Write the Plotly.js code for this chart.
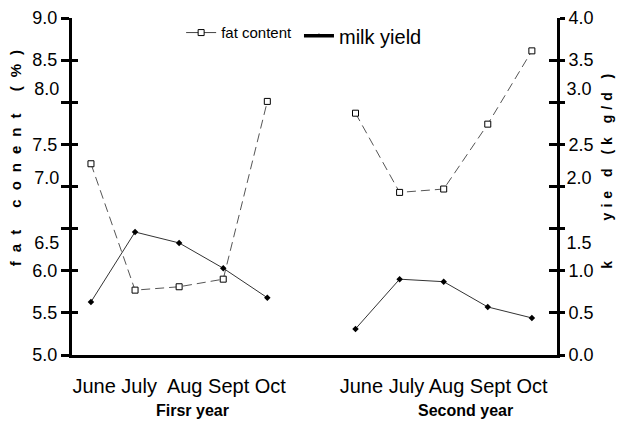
<!DOCTYPE html>
<html>
<head>
<meta charset="utf-8">
<script src="https://cdn.plot.ly/plotly-3.0.1.min.js"></script>
<style>
  html, body { margin: 0; padding: 0; background: #fff; }
  #chart { width: 618px; height: 425px; }
  .ytitle { letter-spacing: 9px; }
  .y2title { letter-spacing: 5px; }
</style>
</head>
<body>
<div id="chart"></div>
<script>
// ---- data ----
const months = ['June', 'July', 'Aug', 'Sept', 'Oct'];
const years = ['Firsr year', 'Second year'];
const fatFirst = [7.27, 5.77, 5.81, 5.90, 8.01];
const fatSecond = [7.87, 6.93, 6.97, 7.74, 8.61];
const milkFirst = [0.63, 1.46, 1.33, 1.03, 0.68];
const milkSecond = [0.31, 0.90, 0.87, 0.57, 0.44];
const leftTickVals = [5.0, 5.5, 6.0, 6.5, 7.0, 7.5, 8.0, 8.5, 9.0];
const leftTickText = ['5.0', '5.5', '6.0', '', '', '7.5', '', '8.5', '9.0'];
const leftShiftedVals = [6.33, 7.10, 8.16];
const leftShiftedText = ['6.5', '7.0', '8.0'];
const rightTickVals = [0.0, 0.5, 1.0, 1.5, 2.0, 2.5, 3.0, 3.5, 4.0];
const rightTickText = ['0.0', '0.5', '1.0', '', '', '2.5', '', '3.5', '4.0'];
const rightShiftedVals = [1.33, 2.10, 3.16];
const rightShiftedText = ['1.5', '2.0', '3.0'];
const groupLabels = ['June July&nbsp; Aug Sept Oct', 'June July Aug Sept Oct'];

// x positions: first year 0..4, second year 6..10 (gap of one slot)
const xFirst = months.map((m, i) => i);
const xSecond = months.map((m, i) => i + 6);
const groupCenters = [xFirst[2], xSecond[2]];

const FONT = 'Liberation Sans, Arial, Helvetica, sans-serif';

const fatStyle = {
  mode: 'lines+markers',
  line: { color: '#555', width: 1, dash: '9px,5px' },
  marker: { symbol: 'square', size: 6, color: '#fff', line: { color: '#000', width: 1 } },
  showlegend: false, yaxis: 'y', hoverinfo: 'skip'
};
const milkStyle = {
  mode: 'lines+markers',
  line: { color: '#333', width: 1 },
  marker: { symbol: 'diamond', size: 5, color: '#000' },
  showlegend: false, yaxis: 'y2', hoverinfo: 'skip'
};

// empty helper traces so the overlay axes (shifted labels, inner ticks) are drawn
const helper = (ax) => ({ x: [null], y: [null], yaxis: ax, mode: 'markers', showlegend: false, hoverinfo: 'skip' });

const traces = [
  Object.assign({ x: xFirst, y: fatFirst, name: 'fat content' }, fatStyle),
  Object.assign({ x: xSecond, y: fatSecond, name: 'fat content' }, fatStyle),
  Object.assign({ x: xFirst, y: milkFirst, name: 'milk yield' }, milkStyle),
  Object.assign({ x: xSecond, y: milkSecond, name: 'milk yield' }, milkStyle),
  helper('y3'), helper('y4'), helper('y5'), helper('y6'),
  // legend entries
  { x: [null], y: [null], name: 'fat content', mode: 'lines+markers', legend: 'legend',
    line: { color: '#444', width: 1 },
    marker: { symbol: 'square', size: 6, color: '#fff', line: { color: '#000', width: 1 } } },
  { x: [null], y: [null], name: 'milk yield', mode: 'lines+markers', legend: 'legend2',
    line: { color: '#000', width: 3.5 },
    marker: { symbol: 'triangle-up', size: 5, color: '#000' } }
];

const baseY = {
  showgrid: false, zeroline: false, fixedrange: true
};

const layout = {
  width: 618, height: 425,
  margin: { l: 72, r: 61, t: 18, b: 70, pad: 0 },
  paper_bgcolor: '#fff', plot_bgcolor: '#fff',
  font: { family: FONT, color: '#000', size: 18 },
  xaxis: {
    range: [-0.43, 10.57], showgrid: false, zeroline: false,
    showline: true, linewidth: 3, linecolor: '#000',
    tickvals: groupCenters, ticktext: groupLabels,
    ticks: 'outside', ticklen: 11, tickcolor: 'rgba(0,0,0,0)',
    tickfont: { size: 20, family: FONT }
  },
  yaxis: Object.assign({}, baseY, {
    range: [5, 9], tickvals: leftTickVals, ticktext: leftTickText,
    ticks: 'outside', ticklen: 8, tickwidth: 3, tickcolor: '#000',
    showline: true, linewidth: 3, linecolor: '#000',
    tickfont: { size: 18, family: FONT },
    title: { text: '&nbsp;&nbsp;&nbsp;&nbsp;&nbsp;fat conent (%)', font: { size: 15, family: FONT, weight: 'bold' }, standoff: 8 }
  }),
  yaxis3: Object.assign({}, baseY, {
    range: [5, 9], overlaying: 'y', side: 'left', anchor: 'x', tickvals: leftShiftedVals, ticktext: leftShiftedText,
    ticks: 'outside', ticklen: 8, tickcolor: 'rgba(0,0,0,0)', showline: false,
    tickfont: { size: 18, family: FONT }
  }),
  yaxis4: Object.assign({}, baseY, {
    range: [5, 9], overlaying: 'y', side: 'left', anchor: 'x', tickvals: leftTickVals,
    ticks: 'inside', ticklen: 6, tickwidth: 3, tickcolor: '#000', showticklabels: false, showline: false
  }),
  yaxis2: Object.assign({}, baseY, {
    range: [0, 4], overlaying: 'y', side: 'right', anchor: 'x', tickvals: rightTickVals, ticktext: rightTickText,
    ticks: 'outside', ticklen: 5, tickwidth: 3, tickcolor: '#000',
    showline: true, linewidth: 3, linecolor: '#000',
    tickfont: { size: 18, family: FONT },
    title: { text: '&nbsp;&nbsp;&nbsp;&nbsp;k&nbsp;&nbsp;&nbsp; yie&nbsp;d (k&nbsp;g/d&nbsp;)', font: { size: 14, family: FONT, weight: 'bold' }, standoff: 10 }
  }),
  yaxis5: Object.assign({}, baseY, {
    range: [0, 4], overlaying: 'y', side: 'right', anchor: 'x', tickvals: rightShiftedVals, ticktext: rightShiftedText,
    ticks: 'outside', ticklen: 5, tickcolor: 'rgba(0,0,0,0)', showline: false,
    tickfont: { size: 18, family: FONT }
  }),
  yaxis6: Object.assign({}, baseY, {
    range: [0, 4], overlaying: 'y', side: 'right', anchor: 'x', tickvals: rightTickVals,
    ticks: 'inside', ticklen: 8, tickwidth: 3, tickcolor: '#000', showticklabels: false, showline: false
  }),
  legend: {
    x: 0.225, xanchor: 'left', y: 1.005, yanchor: 'top', orientation: 'h',
    bgcolor: 'rgba(0,0,0,0)', font: { size: 15, family: FONT }, itemwidth: 30
  },
  legend2: {
    x: 0.468, xanchor: 'left', y: 1.005, yanchor: 'top', orientation: 'h',
    bgcolor: 'rgba(0,0,0,0)', font: { size: 20, family: FONT }, itemwidth: 30
  },
  annotations: years.map((t, i) => ({
    text: '<b>' + t + '</b>', xref: 'x', yref: 'paper',
    x: groupCenters[i] + (i === 0 ? 0.3 : 0.5), y: -0.166, yanchor: 'middle',
    showarrow: false, font: { size: 16, family: FONT }
  }))
};

Plotly.newPlot('chart', traces, layout, { staticPlot: true, displayModeBar: false });
</script>
</body>
</html>
